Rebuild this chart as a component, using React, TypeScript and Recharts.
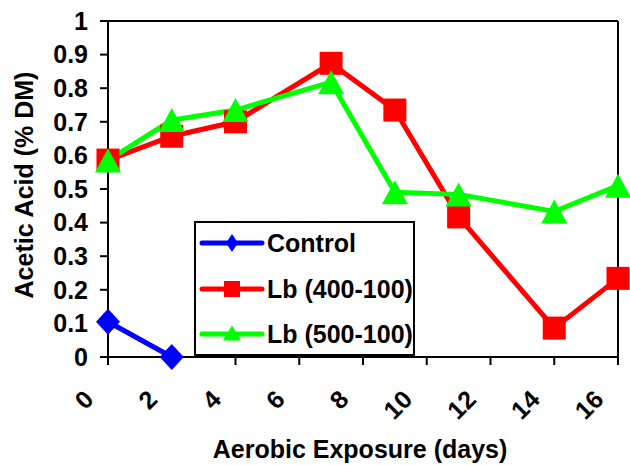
import React from 'react';
import { LineChart, Line, XAxis, YAxis, ReferenceLine, Legend } from 'recharts';

const days = [0, 2, 4, 7, 9, 11, 14, 16];
const controlValues: (number | null)[] = [0.105, 0, null, null, null, null, null, null];
const lb400Values = [0.586, 0.657, 0.7, 0.874, 0.735, 0.417, 0.086, 0.234];
const lb500Values = [0.585, 0.705, 0.735, 0.818, 0.49, 0.484, 0.433, 0.51];
const xTicks = [0, 2, 4, 6, 8, 10, 12, 14, 16];
const yTicks = [0, 0.1, 0.2, 0.3, 0.4, 0.5, 0.6, 0.7, 0.8, 0.9, 1];
const seriesNames = ['Control', 'Lb (400-100)', 'Lb (500-100)'];
const seriesColors = ['#0000FF', '#FF0000', '#00FF00'];

const data = days.map((d, i) => ({
  day: d,
  control: controlValues[i],
  lb400: lb400Values[i],
  lb500: lb500Values[i],
}));

const FONT = "'Liberation Sans', Arial, sans-serif";

const diamondPts = (cx: number, cy: number, w: number, h: number) =>
  `${cx},${cy - h} ${cx + w},${cy} ${cx},${cy + h} ${cx - w},${cy}`;
const trianglePts = (cx: number, cy: number, w: number, h: number) =>
  `${cx},${cy - h / 2} ${cx + w / 2},${cy + h / 2} ${cx - w / 2},${cy + h / 2}`;

const DiamondDot = (props: any) => {
  const { cx, cy, index, value } = props;
  if (cx == null || cy == null || value == null) return <g key={`d${index}`} />;
  return <polygon key={`d${index}`} points={diamondPts(cx, cy, 12, 13)} fill="#0000FF" />;
};
const SquareDot = (props: any) => {
  const { cx, cy, index, value } = props;
  if (cx == null || cy == null || value == null) return <g key={`s${index}`} />;
  return <rect key={`s${index}`} x={cx - 11.5} y={cy - 11.5} width={23} height={23} fill="#FF0000" />;
};
const TriangleDot = (props: any) => {
  const { cx, cy, index, value } = props;
  if (cx == null || cy == null || value == null) return <g key={`t${index}`} />;
  return <polygon key={`t${index}`} points={trianglePts(cx, cy, 26, 24)} fill="#00FF00" />;
};

const XTick = (props: any) => {
  const { x, y, payload } = props;
  const ax = x - 13;
  const ay = y + 36;
  return (
    <text
      x={ax}
      y={ay}
      transform={`rotate(-45, ${ax}, ${ay})`}
      textAnchor="end"
      fontFamily={FONT}
      fontWeight="bold"
      fontSize={25}
      fill="#000"
    >
      {payload.value}
    </text>
  );
};

const renderLegend = () => {
  const rows = [22, 68, 113];
  return (
    <svg width={221} height={135} style={{ display: 'block' }}>
      <rect x={1} y={1} width={219} height={133} fill="#fff" stroke="#000" strokeWidth={2} />
      {seriesNames.map((name, i) => {
        const cy = rows[i];
        const c = seriesColors[i];
        let marker;
        if (i === 0) marker = <polygon points={diamondPts(38, cy, 6, 9)} fill={c} />;
        else if (i === 1) marker = <rect x={30} y={cy - 8} width={16} height={16} fill={c} />;
        else marker = <polygon points={trianglePts(38, cy - 1, 18, 15)} fill={c} />;
        return (
          <g key={name}>
            <line x1={8} x2={68} y1={cy} y2={cy} stroke={c} strokeWidth={5} strokeLinecap="round" />
            {marker}
            <text x={73} y={cy + 9} fontFamily={FONT} fontWeight="bold" fontSize={25} fill="#000">
              {name}
            </text>
          </g>
        );
      })}
    </svg>
  );
};

const YLabel = (props: any) => {
  const vb = props.viewBox || { x: 0, y: 21, width: 108, height: 336 };
  const x = vb.x + 33;
  const y = vb.y + vb.height / 2 - 4;
  return (
    <text
      x={x}
      y={y}
      transform={`rotate(-90, ${x}, ${y})`}
      textAnchor="middle"
      fontFamily={FONT}
      fontWeight="bold"
      fontSize={25}
      fill="#000"
    >
      Acetic Acid (% DM)
    </text>
  );
};

const XLabel = (props: any) => {
  const vb = props.viewBox || { x: 108, y: 357, width: 510, height: 108 };
  const x = vb.x + vb.width / 2 - 3;
  const y = 458;
  return (
    <text x={x} y={y} textAnchor="middle" fontFamily={FONT} fontWeight="bold" fontSize={25} fill="#000">
      Aerobic Exposure (days)
    </text>
  );
};

export default function App() {
  return (
    <div style={{ position: 'absolute', left: 0, top: 0, width: 630, height: 465, background: '#fff' }}>
      <LineChart width={630} height={465} data={data} margin={{ top: 21, right: 12, bottom: 0, left: 0 }}>
        <XAxis
          dataKey="day"
          type="number"
          domain={[0, 16]}
          ticks={xTicks}
          interval={0}
          height={108}
          tickSize={8}
          tickMargin={0}
          axisLine={{ stroke: '#000', strokeWidth: 2 }}
          tickLine={{ stroke: '#000', strokeWidth: 2 }}
          tick={<XTick />}
          label={{ content: <XLabel /> }}
        />
        <YAxis
          type="number"
          domain={[0, 1]}
          ticks={yTicks}
          interval={0}
          width={108}
          tickSize={8}
          tickMargin={12}
          axisLine={{ stroke: '#000', strokeWidth: 2 }}
          tickLine={{ stroke: '#000', strokeWidth: 2 }}
          tick={{ fill: '#000', fontSize: 25, fontWeight: 'bold', fontFamily: FONT }}
          tickFormatter={(v: number) => String(Math.round(v * 10) / 10)}
          label={{ content: <YLabel /> }}
        />
        <ReferenceLine y={1} stroke="#000" strokeWidth={2} />
        <ReferenceLine x={16} stroke="#000" strokeWidth={2} />
        <Legend
          layout="vertical"
          align="center"
          verticalAlign="middle"
          content={renderLegend}
          wrapperStyle={{ position: 'absolute', left: 194, top: 221, width: 221, height: 135 }}
        />
        <Line
          type="linear"
          dataKey="control"
          name={seriesNames[0]}
          stroke={seriesColors[0]}
          strokeWidth={5}
          dot={DiamondDot}
          activeDot={false}
          connectNulls={false}
          isAnimationActive={false}
        />
        <Line
          type="linear"
          dataKey="lb400"
          name={seriesNames[1]}
          stroke={seriesColors[1]}
          strokeWidth={5}
          dot={SquareDot}
          activeDot={false}
          isAnimationActive={false}
        />
        <Line
          type="linear"
          dataKey="lb500"
          name={seriesNames[2]}
          stroke={seriesColors[2]}
          strokeWidth={5}
          dot={TriangleDot}
          activeDot={false}
          isAnimationActive={false}
        />
      </LineChart>
    </div>
  );
}
